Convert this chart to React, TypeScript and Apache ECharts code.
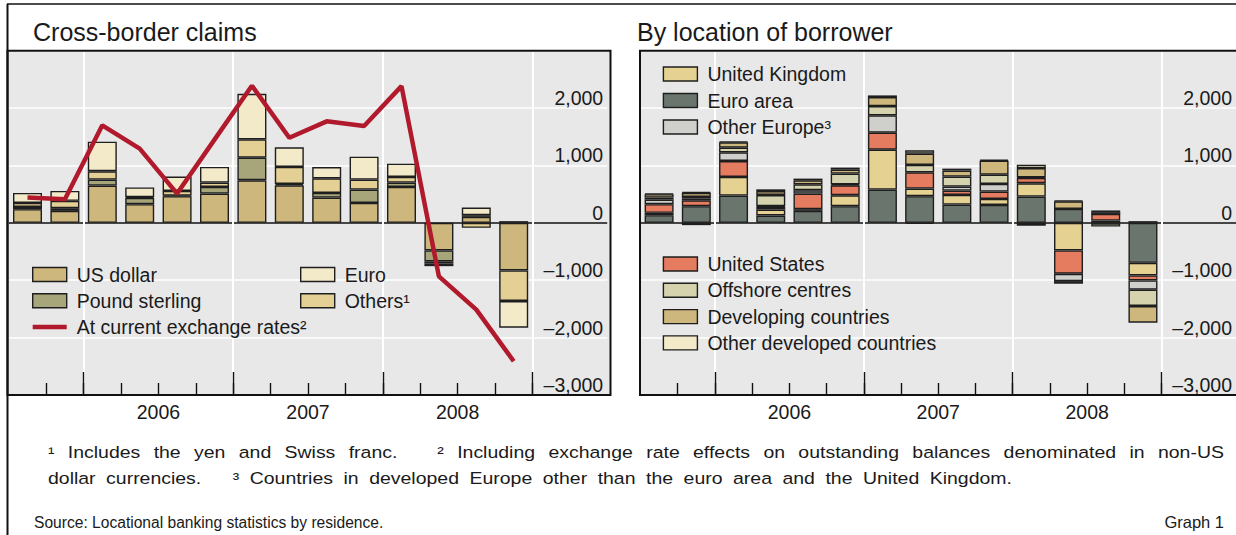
import React, { useEffect, useRef } from 'react';
import * as echarts from 'echarts';

const FONT = '"Liberation Sans", Arial, Helvetica, sans-serif';
const TEXT = '#1a1a1a';

// ---- categories and axis ticks ----
const quarters = [
  'Q3 2005', 'Q4 2005',
  'Q1 2006', 'Q2 2006', 'Q3 2006', 'Q4 2006',
  'Q1 2007', 'Q2 2007', 'Q3 2007', 'Q4 2007',
  'Q1 2008', 'Q2 2008', 'Q3 2008', 'Q4 2008',
  'Q1 2009', 'Q2 2009',
];
const yearLabels = ['2006', '2007', '2008'];
const yearCentres = [4, 8, 12];
const yearBoundaries = [2, 6, 10, 14];
const quarterBoundaries = [1, 2, 3, 4, 5, 6, 7, 8, 9, 10, 11, 12, 13, 14];
const yMin = -3000;
const yMax = 3000;
const yStep = 1000;

// ---- left panel: cross-border claims by currency (USD bn) ----
const usDollar = [238, 209, 650, 325, 464, 510, 742, 655, 440, 348, 626, -480, 104, -829];
const poundSterling = [40, 46, 104, 110, 12, 116, 394, 23, 81, 232, 75, -190, 29, 30];
const othersCcy = [70, 128, 145, 15, 81, 75, 319, 296, 255, 174, 99, -40, -87, -533];
const euroCcy = [174, 174, 516, 168, 249, 273, 794, 342, 197, 400, 232, -45, 133, -464];
const atCurrentRates = [440, 412, 1700, 1293, 510, 1450, 2390, 1484, 1769, 1688, 2383, -933, -1513, -2412];

// ---- right panel: by location of borrower (USD bn) ----
const euroArea = [133, 290, 475, 128, 209, 290, 580, 464, 319, 313, 458, 243, 40, -696];
const unitedKingdom = [41, -40, 325, 104, 29, 191, 696, 133, 168, 104, 232, -481, -10, -220];
const unitedStates = [151, 104, 278, 46, 272, 174, 296, 284, 75, 128, 93, -406, 116, -87];
const otherEurope = [81, 30, 151, 12, 58, 17, 301, -20, 70, 133, -50, -128, 0, -162];
const offshoreCentres = [35, 28, 81, 195, 104, 186, 162, 128, 174, 162, 10, -46, -55, -284];
const developingCountries = [58, 70, 93, 70, 70, 70, 157, 197, 104, 243, 162, 133, 30, -290];
const otherDeveloped = [12, 12, 17, 29, 29, 35, 29, 58, 35, 17, 58, 15, 30, 30];

// ---- texts ----
const titleLeft = 'Cross-border claims';
const titleRight = 'By location of borrower';
const footLine1 = '¹ Includes the yen and Swiss franc.   ² Including exchange rate effects on outstanding balances denominated in non-US';
const footLine2 = 'dollar currencies.   ³ Countries in developed Europe other than the euro area and the United Kingdom.';
const sourceText = 'Source: Locational banking statistics by residence.';
const graphText = 'Graph 1';

// ---- styles ----
const COL = {
  usd: '#cdb77c',
  gbp: '#a7a67b',
  oth: '#e4d094',
  eur: '#f3eaca',
  line: '#b11a2c',
  ea: '#6a766d',
  uk: '#e5d192',
  us: '#e57b5f',
  oe: '#cfcfcc',
  off: '#d5d3ad',
  dev: '#cdb77c',
  od: '#f3eaca',
  bg: '#e8e8e8',
};

const GRID_TOP = 50.7;
const GRID_H = 344.3;
const BAND_W = 598.4;

function yLabel(v: number) {
  if (v === yMax) return '';
  const s = Math.abs(v).toLocaleString('en-US');
  return v < 0 ? '–' + s : s;
}

function justifyLine(line: string, x0: number, x1: number, y: number, size: number, sx: number) {
  const ctx = document.createElement('canvas').getContext('2d') as CanvasRenderingContext2D;
  ctx.font = `${size}px "Liberation Sans"`;
  const parts = line.split(/( +)/).filter((p) => p.length > 0);
  const words = parts.filter((p) => p.trim().length > 0);
  const wordW = words.reduce((s, w) => s + ctx.measureText(w).width * sx, 0);
  const nSp = parts.filter((p) => p.trim().length === 0).reduce((s, p) => s + p.length, 0);
  const sp = (x1 - x0 - wordW) / nSp;
  const els: any[] = [];
  let x = x0;
  for (const p of parts) {
    if (p.trim().length === 0) {
      x += sp * p.length;
      continue;
    }
    els.push({
      type: 'text', x, y, scaleX: sx, silent: true,
      style: { text: p, fontSize: size, fontFamily: FONT, fill: TEXT, align: 'left', verticalAlign: 'middle' },
    });
    x += ctx.measureText(p).width * sx;
  }
  return els;
}

function panelXAxes(g: number) {
  return [
    { type: 'category', gridIndex: g, data: quarters, show: false },
    {
      type: 'value', gridIndex: g, min: 0, max: 16, position: 'bottom',
      axisLine: { show: false, onZero: false },
      axisTick: { show: true, inside: true, length: 12, customValues: quarterBoundaries, lineStyle: { color: '#111', width: 1.4 } },
      axisLabel: { show: false },
      splitLine: { show: false },
    },
    {
      type: 'value', gridIndex: g, min: 0, max: 16, position: 'bottom',
      axisLine: { show: false, onZero: false },
      axisTick: { show: true, inside: true, length: 23, customValues: yearBoundaries, lineStyle: { color: '#111', width: 1.4 } },
      axisLabel: {
        show: true, customValues: yearCentres,
        formatter: (v: number) => yearLabels[yearCentres.indexOf(v)] ?? '',
        margin: 7, fontSize: 19.5, fontFamily: FONT, color: TEXT,
      },
      splitLine: { show: true, lineStyle: { color: '#ffffff', width: 2 } },
    },
  ];
}

function panelYAxis(g: number) {
  return {
    type: 'value', gridIndex: g, min: yMin, max: yMax, interval: yStep, position: 'right',
    axisLine: { show: false, onZero: false },
    axisTick: { show: false },
    axisLabel: {
      inside: true, margin: 4, verticalAlign: 'bottom', formatter: yLabel,
      fontSize: 19.5, fontFamily: FONT, color: TEXT,
    },
    splitLine: {
      lineStyle: { color: ['#ffffff', '#ffffff', '#ffffff', '#111111', '#ffffff', '#ffffff', '#ffffff'], width: 1.6 },
    },
  };
}

function bar(name: string, data: number[], color: string, xi: number, yi: number, stack: string) {
  return {
    type: 'bar', name, data, xAxisIndex: xi, yAxisIndex: yi, stack,
    barWidth: 29,
    itemStyle: { color, borderColor: '#1e1e1e', borderWidth: 1.4 },
  };
}

function legend(left: number, top: number, gap: number, data: any[]) {
  return {
    orient: 'vertical', left, top, itemGap: gap, itemWidth: 34, itemHeight: 14,
    padding: 0, selectedMode: false, icon: 'rect',
    itemStyle: { borderColor: '#1e1e1e', borderWidth: 1.4 },
    textStyle: { fontSize: 19.5, fontFamily: FONT, color: TEXT, padding: [0, 0, 0, 5] },
    data,
  };
}

function buildOption() {
  const graphics: any[] = [
    { type: 'rect', z: -100, silent: true, shape: { x: 7.5, y: GRID_TOP, width: 603, height: GRID_H }, style: { fill: COL.bg } },
    { type: 'rect', z: -100, silent: true, shape: { x: 640, y: GRID_TOP, width: 602, height: GRID_H }, style: { fill: COL.bg } },
    { type: 'rect', z: 100, silent: true, shape: { x: 7.5, y: GRID_TOP, width: 603, height: GRID_H }, style: { fill: 'none', stroke: '#111', lineWidth: 2 } },
    { type: 'rect', z: 100, silent: true, shape: { x: 640, y: GRID_TOP, width: 602, height: GRID_H }, style: { fill: 'none', stroke: '#111', lineWidth: 2 } },
    { type: 'line', z: 100, silent: true, shape: { x1: 7, y1: 4, x2: 1236, y2: 4 }, style: { stroke: '#111', lineWidth: 1.6 } },
    { type: 'line', z: 100, silent: true, shape: { x1: 7.5, y1: 4, x2: 7.5, y2: 535 }, style: { stroke: '#111', lineWidth: 2 } },
    { type: 'text', x: 33, y: 32, silent: true, style: { text: titleLeft, fontSize: 25, fontFamily: FONT, fill: TEXT, verticalAlign: 'middle' } },
    { type: 'text', x: 637, y: 32, silent: true, style: { text: titleRight, fontSize: 25, fontFamily: FONT, fill: TEXT, verticalAlign: 'middle' } },
    ...justifyLine(footLine1, 48, 1224, 453, 16.5, 1.18),
    ...justifyLine(footLine2, 48, 1012, 479, 16.5, 1.18),
    { type: 'text', x: 34, y: 522, silent: true, style: { text: sourceText, fontSize: 15.6, fontFamily: FONT, fill: TEXT, verticalAlign: 'middle' } },
    { type: 'text', x: 1224, y: 522, silent: true, style: { text: graphText, fontSize: 16.5, fontFamily: FONT, fill: TEXT, align: 'right', verticalAlign: 'middle' } },
  ];

  return {
    animation: false,
    backgroundColor: '#ffffff',
    textStyle: { fontFamily: FONT },
    grid: [
      { left: 8.8, top: GRID_TOP, width: BAND_W, height: GRID_H },
      { left: 640.5, top: GRID_TOP, width: BAND_W, height: GRID_H },
    ],
    xAxis: [...panelXAxes(0), ...panelXAxes(1)],
    yAxis: [panelYAxis(0), panelYAxis(1)],
    legend: [
      legend(32, 264.5, 6.3, [
        { name: 'US dollar' },
        { name: 'Pound sterling' },
        { name: 'At current exchange rates²', icon: 'path://M0,0H34V4.5H0Z', itemStyle: { color: COL.line, borderWidth: 0 } },
      ]),
      legend(300, 264.5, 6.3, [{ name: 'Euro' }, { name: 'Others¹' }]),
      legend(662.7, 64, 6.5, [{ name: 'United Kingdom' }, { name: 'Euro area' }, { name: 'Other Europe³' }]),
      legend(662.7, 254, 6.3, [
        { name: 'United States' },
        { name: 'Offshore centres' },
        { name: 'Developing countries' },
        { name: 'Other developed countries' },
      ]),
    ],
    series: [
      bar('US dollar', usDollar, COL.usd, 0, 0, 'L'),
      bar('Pound sterling', poundSterling, COL.gbp, 0, 0, 'L'),
      bar('Others¹', othersCcy, COL.oth, 0, 0, 'L'),
      bar('Euro', euroCcy, COL.eur, 0, 0, 'L'),
      {
        type: 'line', name: 'At current exchange rates²', data: atCurrentRates, xAxisIndex: 0, yAxisIndex: 0,
        symbol: 'none', z: 10, color: COL.line,
        lineStyle: { color: COL.line, width: 4.5 },
        itemStyle: { color: COL.line },
      },
      bar('Euro area', euroArea, COL.ea, 3, 1, 'R'),
      bar('United Kingdom', unitedKingdom, COL.uk, 3, 1, 'R'),
      bar('United States', unitedStates, COL.us, 3, 1, 'R'),
      bar('Other Europe³', otherEurope, COL.oe, 3, 1, 'R'),
      bar('Offshore centres', offshoreCentres, COL.off, 3, 1, 'R'),
      bar('Developing countries', developingCountries, COL.dev, 3, 1, 'R'),
      bar('Other developed countries', otherDeveloped, COL.od, 3, 1, 'R'),
    ],
    graphic: { elements: graphics },
  };
}

export default function App() {
  const ref = useRef<HTMLDivElement>(null);
  useEffect(() => {
    if (!ref.current) return;
    const chart = echarts.init(ref.current, null, { renderer: 'svg' });
    chart.setOption(buildOption() as any);
    return () => chart.dispose();
  }, []);
  return (
    <div
      ref={ref}
      style={{ position: 'fixed', left: 0, top: 0, width: 1236, height: 535, background: '#ffffff' }}
    />
  );
}
